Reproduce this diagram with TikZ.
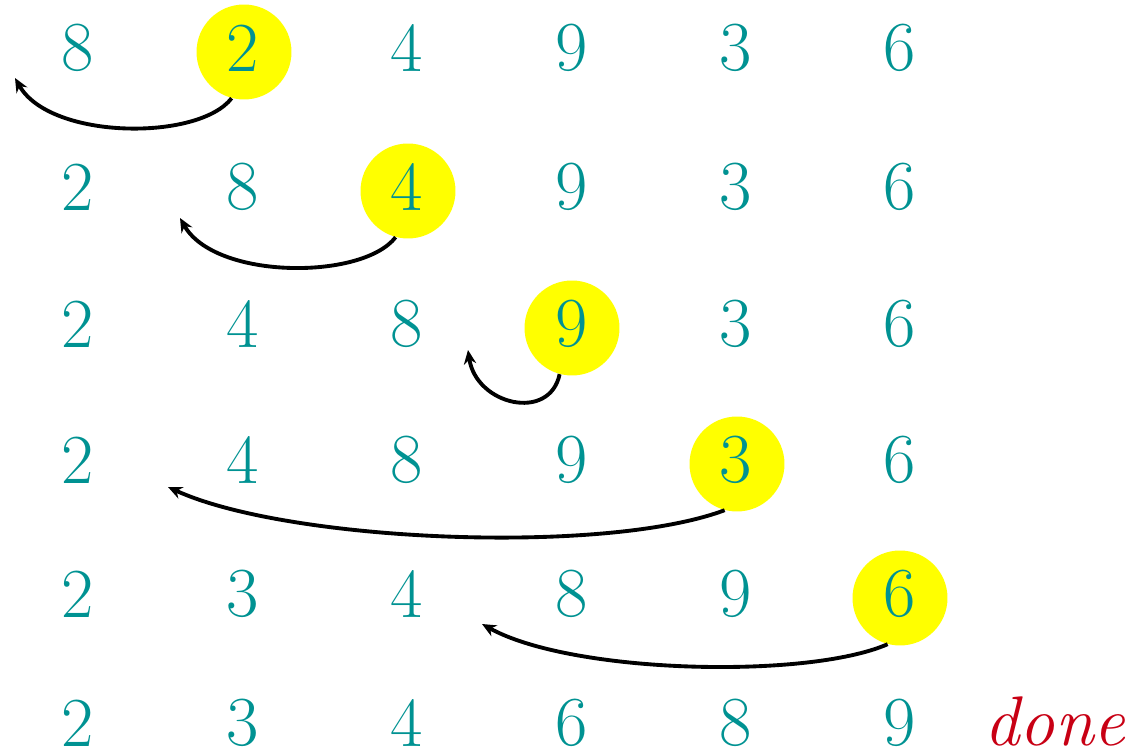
\documentclass[tikz,border=0pt]{standalone}
\usetikzlibrary{arrows.meta, calc, positioning}

\definecolor{numteal}{RGB}{0,146,146}
\definecolor{hlyellow}{RGB}{255,255,0}
\definecolor{donered}{RGB}{200,0,20}

\tikzset{
  num/.style={text=numteal, font=\fontsize{40}{40}\selectfont, inner sep=0pt},
  hl/.style={circle, fill=hlyellow, minimum size=1.9cm, inner sep=0pt},
  move/.style={line width=2.2pt, -{Stealth[length=8pt, width=7pt]}}
}

\begin{document}
\begin{tikzpicture}[x=0.02cm, y=-0.02cm]
    \useasboundingbox (0,0) rectangle (1127,756);

    % highlighted elements
    \node[hl] (h1) at (244, 52) {};
    \node[hl] (h2) at (408, 191) {};
    \node[hl] (h3) at (572, 328) {};
    \node[hl] (h4) at (737, 464) {};
    \node[hl] (h5) at (900, 598) {};

    % rows of the array
    \foreach \row/\yy/\vals in {1/48/{8,2,4,9,3,6}, 2/187/{2,8,4,9,3,6},
        3/324/{2,4,8,9,3,6}, 4/460/{2,4,8,9,3,6}, 5/594/{2,3,4,8,9,6},
        6/723/{2,3,4,6,8,9}}
      \foreach \v [count=\col] in \vals
        \node[num] (r\row c\col) at ({78+164.4*(\col-1)}, \yy) {\v};

    \node[text=donered, font=\fontsize{40}{40}\selectfont\itshape, inner sep=0pt,
          anchor=base west] (done) at ($(r6c6.base east)+(68,0)$) {done};

    % insertion points
    \coordinate (e1) at (15, 78);
    \coordinate (e2) at (180, 218);
    \coordinate (e3) at (468, 350);
    \coordinate (e4) at (168, 487);
    \coordinate (e5) at (482, 624);

    % moves
    \draw[move] (h1.-105) .. controls +(-33,43) and +(35,62) .. (e1);
    \draw[move] (h2.-105) .. controls +(-33,43) and +(35,62) .. (e2);
    \draw[move] (h3.-105) .. controls +(-10,48) and +(8,55) .. (e3);
    \draw[move] (h4.-105) .. controls +(-120,45) and +(120,55) .. (e4);
    \draw[move] (h5.-105) .. controls +(-80,35) and +(90,50) .. (e5);
\end{tikzpicture}
\end{document}
